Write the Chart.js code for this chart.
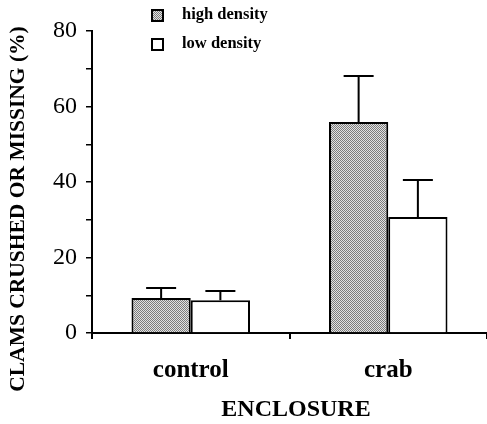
<!DOCTYPE html>
<html>
<head>
<meta charset="utf-8">
<script src="https://cdn.jsdelivr.net/npm/chart.js@4.4.1/dist/chart.umd.min.js"></script>
<style>
  html, body { margin: 0; padding: 0; background: #fff; }
  #wrap { position: relative; width: 487px; height: 424px; }
</style>
</head>
<body>
<div id="wrap"><canvas id="chart" width="487" height="424"></canvas></div>
<script>
const categories = ['control', 'crab'];
const seriesNames = ['high density', 'low density'];
const highValues = [9.3, 55.9];
const highErrors = [2.6, 12.2];
const lowValues = [8.7, 30.7];
const lowErrors = [2.4, 9.8];
const yTickLabels = [0, 20, 40, 60, 80];
const yTitle = 'CLAMS CRUSHED OR MISSING (%)';
const xTitle = 'ENCLOSURE';

const serif = '"Liberation Serif", "DejaVu Serif", serif';

function makeStipple() {
  const c = document.createElement('canvas');
  c.width = 2;
  c.height = 2;
  const g = c.getContext('2d');
  g.fillStyle = '#e2e2e2';
  g.fillRect(0, 0, 2, 2);
  g.fillStyle = '#7c7c7c';
  g.fillRect(0, 0, 1, 1);
  g.fillRect(1, 1, 1, 1);
  return g.createPattern(c, 'repeat');
}

const stipple = makeStipple();

// error bars (upper half only) drawn from the bar elements
const errorBarPlugin = {
  id: 'errorBars',
  afterDatasetsDraw(chart) {
    const { ctx } = chart;
    const yScale = chart.scales.y;
    chart.data.datasets.forEach((ds, i) => {
      const meta = chart.getDatasetMeta(i);
      meta.data.forEach((bar, j) => {
        const top = yScale.getPixelForValue(ds.data[j] + ds.errors[j]);
        ctx.save();
        ctx.strokeStyle = '#000';
        ctx.lineWidth = 2;
        ctx.beginPath();
        ctx.moveTo(bar.x, bar.y);
        ctx.lineTo(bar.x, top);
        ctx.moveTo(bar.x - 15, top);
        ctx.lineTo(bar.x + 15, top);
        ctx.stroke();
        ctx.restore();
      });
    });
  }
};

// legend and axis titles placed like the printed figure
const decorPlugin = {
  id: 'decor',
  afterDraw(chart) {
    const { ctx } = chart;
    ctx.save();
    ctx.fillStyle = '#000';
    ctx.textBaseline = 'middle';

    chart.data.datasets.forEach((ds, i) => {
      const y = 15 + i * 29;
      ctx.fillStyle = ds.backgroundColor;
      ctx.fillRect(152, y - 5, 11, 11);
      ctx.strokeStyle = '#000';
      ctx.lineWidth = 2;
      ctx.strokeRect(152, y - 5, 11, 11);
      ctx.fillStyle = '#000';
      ctx.font = 'bold 16.5px ' + serif;
      ctx.textAlign = 'left';
      ctx.fillText(ds.label, 182, y);
    });

    ctx.font = 'bold 24px ' + serif;
    ctx.textAlign = 'center';
    ctx.fillText(xTitle, 296, 410);

    ctx.translate(18, 209);
    ctx.rotate(-Math.PI / 2);
    ctx.font = 'bold 21.5px ' + serif;
    ctx.fillText(yTitle, 0, 0);
    ctx.restore();
  }
};

new Chart(document.getElementById('chart'), {
  type: 'bar',
  data: {
    labels: categories,
    datasets: [
      {
        label: seriesNames[0],
        data: highValues,
        errors: highErrors,
        backgroundColor: stipple,
        borderColor: '#000',
        borderWidth: 2
      },
      {
        label: seriesNames[1],
        data: lowValues,
        errors: lowErrors,
        backgroundColor: '#ffffff',
        borderColor: '#000',
        borderWidth: 2
      }
    ]
  },
  options: {
    responsive: false,
    animation: false,
    layout: { padding: { top: 31, right: 0, left: 0, bottom: 0 } },
    datasets: {
      bar: { categoryPercentage: 0.6, barPercentage: 1.0 }
    },
    plugins: {
      legend: { display: false },
      tooltip: { enabled: false }
    },
    scales: {
      x: {
        afterFit(scale) { scale.height = 91; },
        grid: {
          offset: true,
          drawOnChartArea: false,
          drawTicks: true,
          tickLength: 6,
          color: '#000',
          lineWidth: 2
        },
        border: { display: true, color: '#000', width: 2 },
        ticks: {
          padding: 17,
          color: '#000',
          font: { family: serif, size: 25, weight: 'bold' }
        }
      },
      y: {
        min: 0,
        max: 80,
        afterFit(scale) { scale.width = 92; },
        grid: {
          drawOnChartArea: false,
          drawTicks: true,
          tickLength: 6,
          color: '#000',
          lineWidth: 1.5
        },
        border: { display: true, color: '#000', width: 2 },
        ticks: {
          stepSize: 10,
          autoSkip: false,
          padding: 9,
          color: '#000',
          font: { family: serif, size: 24 },
          callback(value) {
            return yTickLabels.includes(value) ? value : '';
          }
        }
      }
    }
  },
  plugins: [errorBarPlugin, decorPlugin]
});
</script>
</body>
</html>
